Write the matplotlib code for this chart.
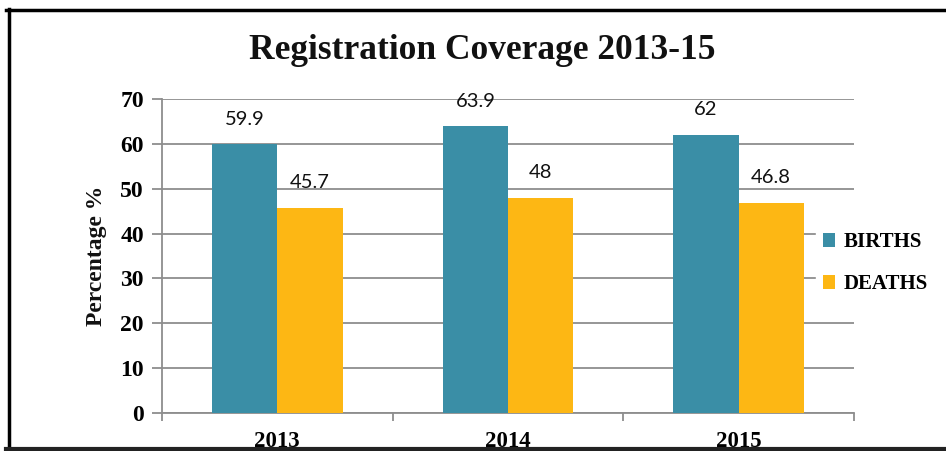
import matplotlib
matplotlib.use("Agg")
import matplotlib.pyplot as plt
from matplotlib.patches import Patch
from matplotlib.lines import Line2D
import numpy as np

# data
years = ["2013", "2014", "2015"]
births = [59.9, 63.9, 62]
deaths = [45.7, 48, 46.8]
birth_labels = ["59.9", "63.9", "62"]
death_labels = ["45.7", "48", "46.8"]

teal = "#3A8EA6"
gold = "#FDB714"
grid_col = "#8E8E8E"
serif = "Liberation Serif"

fig = plt.figure(figsize=(9.46, 4.51), dpi=100)
ax = fig.add_axes([0.1712, 0.0843, 0.7315, 0.6962])

x = np.arange(len(years))
w = 0.283
b1 = ax.bar(x - w / 2, births, w, color=teal, zorder=3)
b2 = ax.bar(x + w / 2, deaths, w, color=gold, zorder=3)

# value labels above bars
for rect, lab in zip(b1, birth_labels):
    ax.annotate(lab, (rect.get_x() + rect.get_width() / 2, rect.get_height()),
                xytext=(0, 12), textcoords="offset points", ha="center", va="bottom",
                fontsize=14.5, family="Lato", color="#111111")
for rect, lab in zip(b2, death_labels):
    ax.annotate(lab, (rect.get_x() + rect.get_width() / 2, rect.get_height()),
                xytext=(0, 12), textcoords="offset points", ha="center", va="bottom",
                fontsize=14.5, family="Lato", color="#111111")

ax.set_xlim(-0.5, 2.5)
ax.set_ylim(0, 70)
ax.set_yticks(range(0, 71, 10))
ax.yaxis.grid(True, color=grid_col, linewidth=1.3, zorder=0)
ax.set_axisbelow(True)

# category boundary ticks on x axis
ax.set_xticks([-0.5, 0.5, 1.5, 2.5])
ax.set_xticklabels([])
ax.set_xticks(x, minor=True)
ax.set_xticklabels(years, minor=True, fontsize=16.5, family=serif, fontweight="bold")
ax.tick_params(axis="x", which="minor", length=0, pad=13)
ax.tick_params(axis="x", which="major", length=6, color=grid_col, width=1.3, direction="out")
ax.tick_params(axis="y", length=7, color=grid_col, width=1.3, pad=6)
for t in ax.get_yticklabels():
    t.set_fontsize(17)
    t.set_family(serif)
    t.set_fontweight("bold")

for s in ["top", "right"]:
    ax.spines[s].set_visible(False)
for s in ["left", "bottom"]:
    ax.spines[s].set_color(grid_col)
    ax.spines[s].set_linewidth(1.3)

fig.text(0.5095, 0.887, "Registration Coverage 2013-15", ha="center", va="center",
         fontsize=25.5, family=serif, fontweight="bold", color="#111111")
fig.text(0.1025, 0.432, "Percentage %", ha="center", va="center", rotation=90,
         fontsize=17, family=serif, fontweight="bold", color="#111111")

handles = [Patch(facecolor=teal), Patch(facecolor=gold)]
leg = ax.legend(handles, ["BIRTHS", "DEATHS"], loc="center left",
                bbox_to_anchor=(0.863, 0.416), bbox_transform=fig.transFigure,
                frameon=True, fancybox=False, edgecolor="white", facecolor="white",
                framealpha=1, handlelength=0.6, handleheight=0.6, handletextpad=0.4,
                labelspacing=1.05, borderpad=0.3, borderaxespad=0,
                prop={"family": serif, "weight": "bold", "size": 15})
leg.set_zorder(5)

# black page frame (top, left, bottom)
fig.add_artist(Line2D([0.006, 1.0], [0.978, 0.978], color="black", linewidth=2.5,
                      transform=fig.transFigure, zorder=10))
fig.add_artist(Line2D([0.009, 0.009], [0.004, 0.98], color="black", linewidth=2.5,
                      transform=fig.transFigure, zorder=10))
fig.add_artist(Line2D([0.006, 1.0], [0.004, 0.004], color="#222222", linewidth=3,
                      transform=fig.transFigure, zorder=10))

fig.savefig("out.png", dpi=100)
